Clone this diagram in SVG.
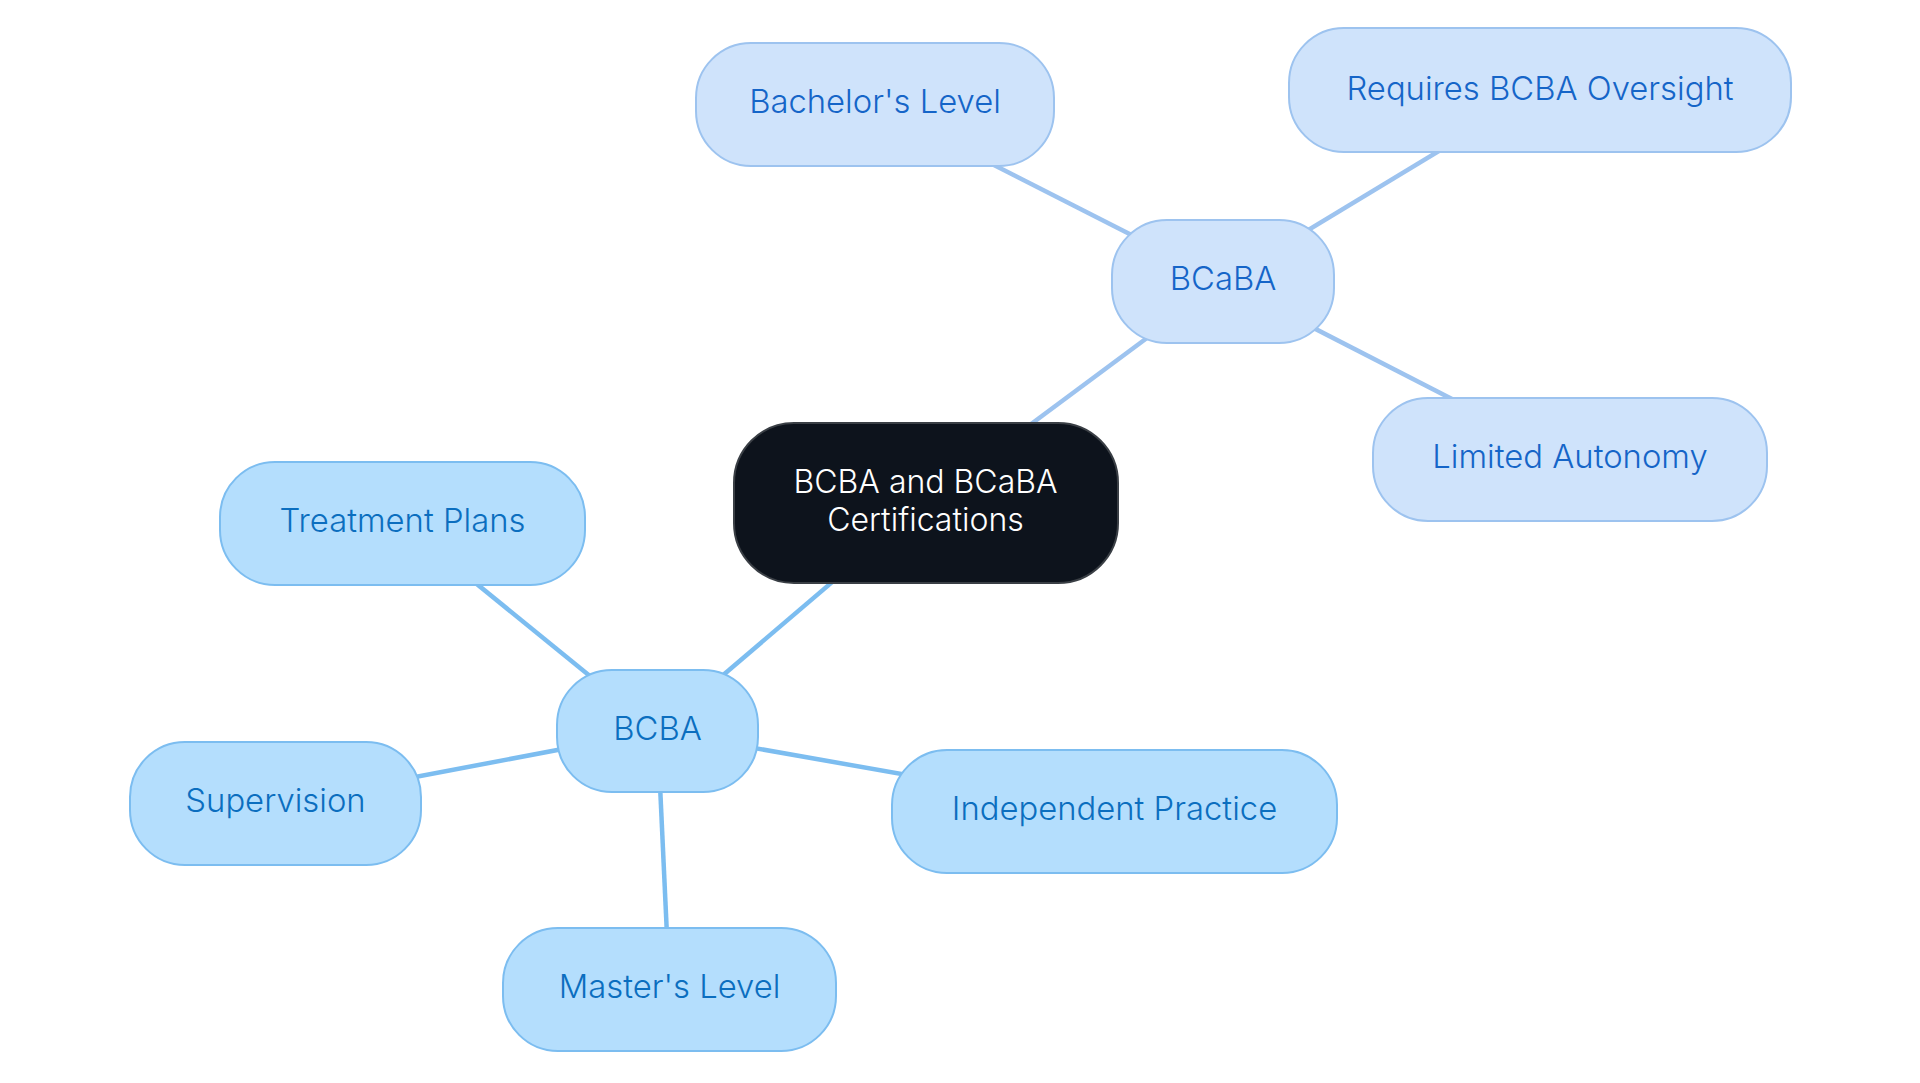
<svg xmlns="http://www.w3.org/2000/svg" width="1920" height="1083" viewBox="0 0 1920 1083">
<style>
.t{font-family:Inter,"Noto Sans","Liberation Sans",sans-serif;font-size:32.8px;font-weight:300;text-anchor:middle}
.c{font-size:32px}
.a rect{fill:#cfe3fb;stroke:#9dc3ef;stroke-width:2}
.a text{fill:#1565c8}
.b rect{fill:#b4defd;stroke:#7cbdf0;stroke-width:2}
.b text{fill:#0b6ebf}
.ea{stroke:#9dc3ef;stroke-width:4.5;fill:none}
.eb{stroke:#7cbdf0;stroke-width:4.5;fill:none}
</style>
<rect width="1920" height="1083" fill="#ffffff"/>
<g id="connectors">
<line class="ea" x1="925.5" y1="502.5" x2="1223" y2="281.5"/>
<line class="eb" x1="925.5" y1="502.5" x2="657.5" y2="731"/>
<line class="ea" x1="1223" y1="281.5" x2="875" y2="104.5"/>
<line class="ea" x1="1223" y1="281.5" x2="1540" y2="90"/>
<line class="ea" x1="1223" y1="281.5" x2="1570" y2="459.5"/>
<line class="eb" x1="657.5" y1="731" x2="402.5" y2="523.5"/>
<line class="eb" x1="657.5" y1="731" x2="275.5" y2="803.5"/>
<line class="eb" x1="657.5" y1="731" x2="669.5" y2="989.5"/>
<line class="eb" x1="657.5" y1="731" x2="1114.5" y2="811.5"/>
</g>
<g id="root">
<rect x="734" y="423" width="384" height="160" rx="60" fill="#0d131c" stroke="#3a3f45" stroke-width="2"/>
<text class="t c" x="925.5" y="493" fill="#ffffff">BCBA and BCaBA</text>
<text class="t c" x="925.5" y="531" fill="#ffffff">Certifications</text>
</g>
<g id="bcaba" class="a">
<rect x="1112" y="220" width="222" height="123" rx="55"/>
<text class="t" x="1223" y="290">BCaBA</text>
</g>
<g id="bachelors" class="a">
<rect x="696" y="43" width="358" height="123" rx="55"/>
<text class="t" x="875" y="113">Bachelor's Level</text>
</g>
<g id="oversight" class="a">
<rect x="1289" y="28" width="502" height="124" rx="55"/>
<text class="t" x="1540" y="100">Requires BCBA Oversight</text>
</g>
<g id="autonomy" class="a">
<rect x="1373" y="398" width="394" height="123" rx="55"/>
<text class="t" x="1570" y="468">Limited Autonomy</text>
</g>
<g id="bcba" class="b">
<rect x="557" y="670" width="201" height="122" rx="55"/>
<text class="t" x="657.5" y="740">BCBA</text>
</g>
<g id="treatment" class="b">
<rect x="220" y="462" width="365" height="123" rx="55"/>
<text class="t" x="402.5" y="532">Treatment Plans</text>
</g>
<g id="supervision" class="b">
<rect x="130" y="742" width="291" height="123" rx="55"/>
<text class="t" x="275.5" y="812">Supervision</text>
</g>
<g id="masters" class="b">
<rect x="503" y="928" width="333" height="123" rx="55"/>
<text class="t" x="669.5" y="998">Master's Level</text>
</g>
<g id="independent" class="b">
<rect x="892" y="750" width="445" height="123" rx="55"/>
<text class="t" x="1114.5" y="820">Independent Practice</text>
</g>
</svg>
